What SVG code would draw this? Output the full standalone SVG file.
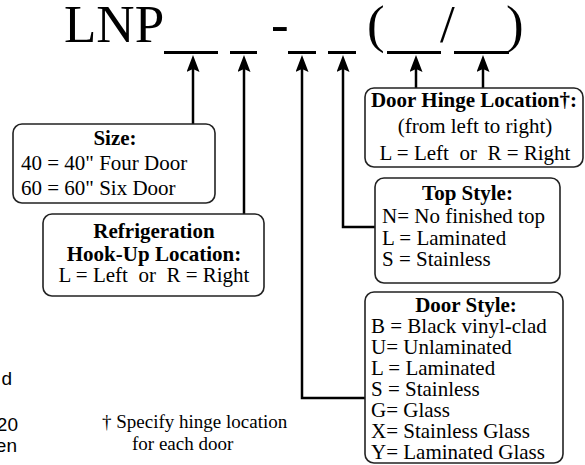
<svg xmlns="http://www.w3.org/2000/svg" width="585" height="465" viewBox="0 0 585 465">
<style>
.t{font-family:"Liberation Serif","Times New Roman",serif;fill:#000}
.big{font-size:53px}
.bx{font-size:21px}
.b{font-weight:bold}
.m{text-anchor:middle}
.box{fill:#fff;stroke:#222;stroke-width:1.6}
.ul{stroke:#000;stroke-width:3;fill:none}
.c{stroke:#000;stroke-width:2.5;fill:none}
.fn{font-size:19px}
.s{font-family:"Liberation Sans",Arial,sans-serif;font-size:19px;fill:#000;text-anchor:end}
</style>
<defs>
<marker id="ah" viewBox="0 0 17 13" refX="10" refY="6.5" markerWidth="17" markerHeight="13" markerUnits="userSpaceOnUse" orient="auto">
<path d="M0,0 L17,6.5 L0,13 L3,6.5 Z" fill="#000"/>
</marker>
</defs>
<rect width="585" height="465" fill="#fff"/>
<g id="title">
<text class="t big" x="64" y="42">LNP</text>
<text class="t big" x="271" y="42">-</text>
<text class="t big" x="367" y="42">(</text>
<text class="t big" x="440" y="42">/</text>
<text class="t big" x="506" y="42">)</text>
<path class="ul" d="M164,52.5H218M230,52.5H257M288,52.5H316M328,52.5H356M387,52.5H441M454,52.5H509"/>
</g>
<g id="connectors">
<path class="c" d="M193,124V62" marker-end="url(#ah)"/>
<path class="c" d="M244,214V62" marker-end="url(#ah)"/>
<path class="c" d="M365,398H302V62" marker-end="url(#ah)"/>
<path class="c" d="M375,227H343V62" marker-end="url(#ah)"/>
<path class="c" d="M416,88V62" marker-end="url(#ah)"/>
<path class="c" d="M483,88V62" marker-end="url(#ah)"/>
</g>
<g id="size">
<rect class="box" x="13" y="124" width="202" height="79" rx="9"/>
<text class="t bx b m" x="115" y="145">Size:</text>
<text class="t bx" x="21" y="170">40 = 40" Four Door</text>
<text class="t bx" x="21" y="195">60 = 60" Six Door</text>
</g>
<g id="refrigeration">
<rect class="box" x="43" y="214" width="221" height="82" rx="9"/>
<text class="t bx b m" x="154" y="238">Refrigeration</text>
<text class="t bx b m" x="154" y="261">Hook-Up Location:</text>
<text class="t bx m" x="154" y="282" xml:space="preserve">L = Left  or  R = Right</text>
</g>
<g id="door-hinge">
<rect class="box" x="365" y="88" width="218" height="79" rx="9"/>
<text class="t bx b m" x="474" y="106.5">Door Hinge Location†:</text>
<text class="t bx m" x="475" y="133">(from left to right)</text>
<text class="t bx m" x="475" y="160" xml:space="preserve">L = Left  or  R = Right</text>
</g>
<g id="top-style">
<rect class="box" x="375" y="178" width="185" height="105" rx="9"/>
<text class="t bx b m" x="467.5" y="200">Top Style:</text>
<text class="t bx" x="382" y="222.5">N= No finished top</text>
<text class="t bx" x="382" y="244.5">L = Laminated</text>
<text class="t bx" x="382" y="266">S = Stainless</text>
</g>
<g id="door-style">
<rect class="box" x="365" y="292" width="198" height="171" rx="9"/>
<text class="t bx b m" x="466" y="312">Door Style:</text>
<text class="t bx" x="371" y="333">B = Black vinyl-clad</text>
<text class="t bx" x="371" y="354">U= Unlaminated</text>
<text class="t bx" x="371" y="375">L = Laminated</text>
<text class="t bx" x="371" y="396">S = Stainless</text>
<text class="t bx" x="371" y="417">G= Glass</text>
<text class="t bx" x="371" y="438">X= Stainless Glass</text>
<text class="t bx" x="371" y="458.5">Y= Laminated Glass</text>
</g>
<g id="footnote">
<text class="t fn" x="102" y="428">† Specify hinge location</text>
<text class="t fn" x="132" y="450">for each door</text>
</g>
<g id="fragments">
<text class="s" x="12" y="385">d</text>
<text class="s" x="18" y="431">20</text>
<text class="s" x="17" y="452">en</text>
</g>
</svg>
